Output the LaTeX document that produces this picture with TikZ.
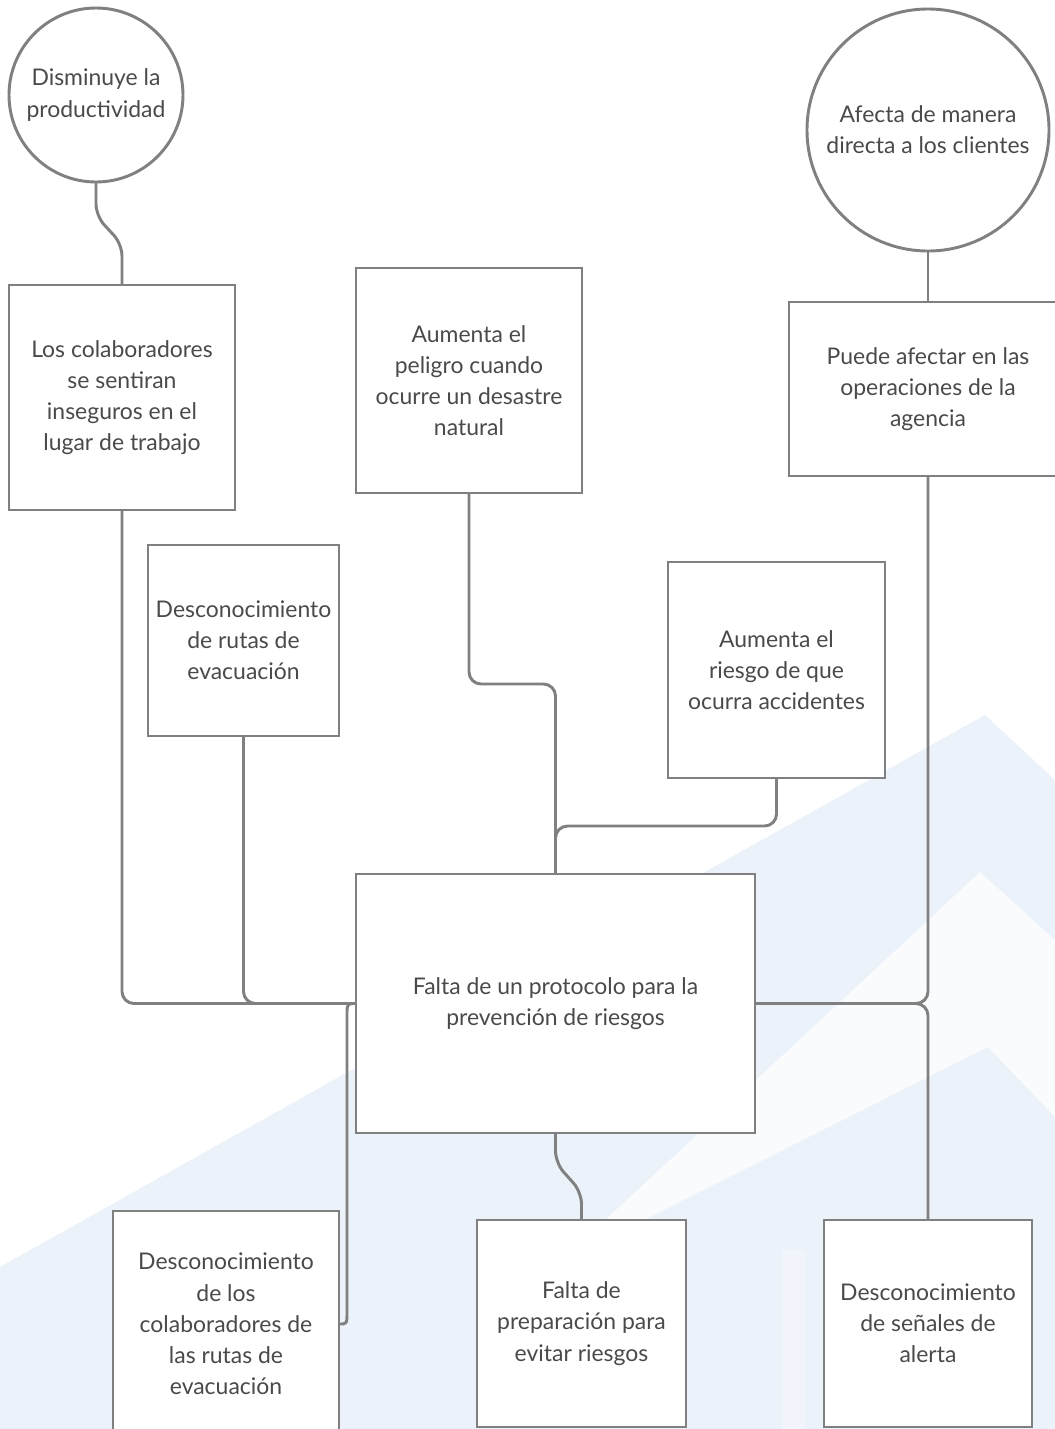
\documentclass[tikz,border=0pt]{standalone}
\usepackage{fontspec}
\setmainfont{Lato}
\definecolor{lg}{HTML}{808080}
\definecolor{tx}{HTML}{4A4A4A}
\definecolor{wm}{HTML}{EBF2FA}
\begin{document}
\begin{tikzpicture}[x=0.75pt,y=-0.75pt,
  px/.style 2 args={minimum width=#1*0.75pt, minimum height=#2*0.75pt},
  box/.style={draw=lg, fill=white, line width=2.2pt, rectangle, inner sep=0pt, outer sep=0pt,
    align=center, text=tx, font=\fontsize{17.2}{23.4}\selectfont},
  bubble/.style={draw=lg, fill=white, line width=2.2pt, circle, inner sep=0pt, outer sep=0pt,
    align=center, text=tx, font=\fontsize{17.2}{23.4}\selectfont, minimum size=#1*0.75pt},
  conn/.style={draw=lg, line width=2.2pt, rounded corners=9pt}]
\useasboundingbox (0,0) rectangle (1055,1429);
\clip (0,0) rectangle (1055,1429);
% background watermark
\fill[white] (0,0) rectangle (1055,1429);
\fill[wm] (0,1267) -- (985,715) -- (1055,780) -- (1055,1429) -- (0,1429) -- cycle;
\fill[white, opacity=0.7] (980,872) -- (1055,940) -- (1055,1117) -- (988,1047) -- (560,1262) -- cycle;
\fill[white, opacity=0.3] (782,1250) rectangle (805,1429);

% nodes
\node[bubble=174] (c1) at (96,95) {Disminuye la\\productividad};
\node[bubble=242] (c2) at (928,130) {Afecta de manera\\directa a los clientes};
\node[box, px={226}{225}] (b1) at (122,397.5) {Los colaboradores\\se sentiran\\inseguros en el\\lugar de trabajo};
\node[box, px={226}{225}] (b2) at (469,380.5) {Aumenta el\\peligro cuando\\ocurre un desastre\\natural};
\node[box, px={278}{174}] (b3) at (928,389) {Puede afectar en las\\operaciones de la\\agencia};
\node[box, px={191}{191}] (b4) at (243.5,640.5) {Desconocimiento\\de rutas de\\evacuación};
\node[box, px={217}{216}] (b5) at (776.5,670) {Aumenta el\\riesgo de que\\ocurra accidentes};
\node[box, px={399}{259}] (ctr) at (555.5,1003.5) {Falta de un protocolo para la\\prevención de riesgos};
\node[box, px={226}{226}] (b6) at (226,1324) {Desconocimiento\\de los\\colaboradores de\\las rutas de\\evacuación};
\node[box, px={209}{207}] (b7) at (581.5,1323.5) {Falta de\\preparación para\\evitar riesgos};
\node[box, px={208}{207}] (b8) at (928,1323.5) {Desconocimiento\\de señales de\\alerta};

% connectors
\draw[conn] (c1.south) -- (96,216) -- (122,244) -- (b1.north);
\draw[conn] (b1.south) |- (ctr.west);
\draw[conn] (b4.south) |- (ctr.west);
\draw[conn] (b2.south) -- (469,684) -- (555.5,684) -- (ctr.north);
\draw[conn] (b5.south) -- (776.5,826) -- (555.5,826) -- (ctr.north);
\draw[conn] (c2.south) -- (b3.north);
\draw[conn] (b3.south) |- (ctr.east);
\draw[conn] (ctr.east) -| (b8.north);
\draw[conn] (ctr.south) -- (555.5,1163) -- (581.5,1192) -- (b7.north);
\draw[conn, rounded corners=0pt] (b6.east) .. controls (347,1324) .. (347,1312) -- (347,1015) .. controls (347,1003.5) .. (ctr.west);
\end{tikzpicture}
\end{document}
